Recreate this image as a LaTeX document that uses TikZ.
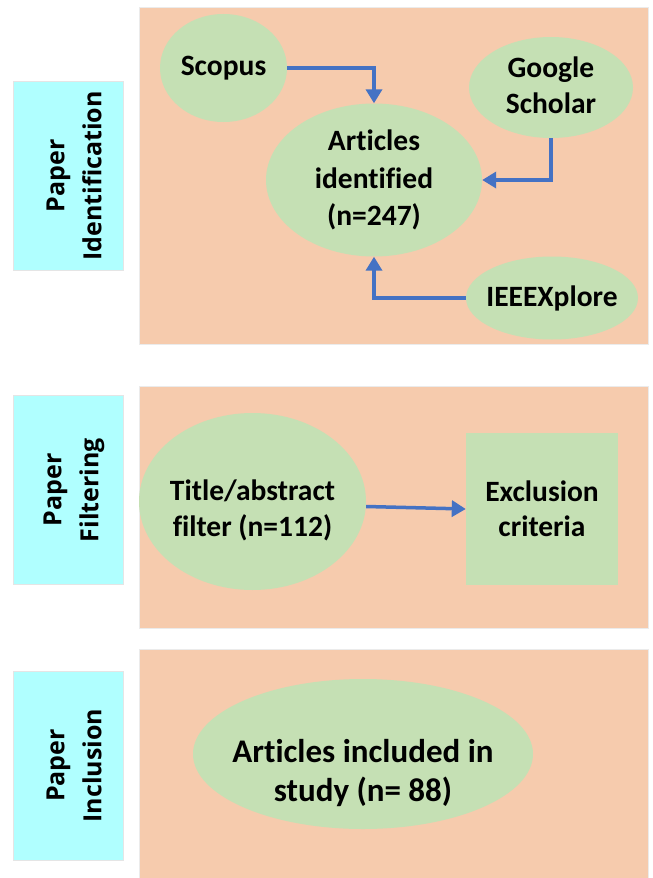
\documentclass[tikz,border=0pt]{standalone}
\usepackage{fontspec}
\setmainfont{Carlito}[Ligatures=NoCommon]
\newfontfamily\lblfont{Open Sans}
\usetikzlibrary{shapes.geometric,arrows.meta}
\definecolor{panelor}{HTML}{F6CBAD}
\definecolor{nodegr}{HTML}{C5E0B4}
\definecolor{stagecy}{HTML}{B0FFFF}
\definecolor{arrbl}{HTML}{4472C4}
\begin{document}
\begin{tikzpicture}[x=1bp,y=-1bp,
  panel/.style={fill=panelor, draw=black!8, line width=0.6bp, inner sep=0},
  stage/.style={fill=stagecy, draw=black!10, line width=0.6bp, inner sep=0,
    minimum width=110bp, minimum height=189bp},
  stagetext/.style={rotate=90, align=center, inner sep=0,
    font=\lblfont\bfseries\fontsize{25bp}{37bp}\selectfont},
  bubtext/.style={align=center, inner sep=0,
    font=\bfseries\fontsize{29.5bp}{35.5bp}\selectfont},
  bubble/.style={ellipse, fill=nodegr, inner sep=0},
  flow/.style={draw=arrbl, line width=3.5bp, -{Triangle[length=14bp,width=16bp]}}
]
\useasboundingbox (0,0) rectangle (653,878);

% panels
\node[panel, minimum width=509bp, minimum height=337bp] (p1) at (393.5,175.5) {};
\node[panel, minimum width=509bp, minimum height=242bp] (p2) at (393.5,507) {};
\node[panel, minimum width=509bp, minimum height=232bp] (p3) at (393.5,765) {};

% stage labels
\node[stage] (s1) at (68,176) {};
\node[stagetext] (s1t) at ([xshift=6bp]s1.center) {Paper\\Identification};
\node[stage] (s2) at (68,490) {};
\node[stagetext] (s2t) at ([xshift=6bp]s2.center) {Paper\\Filtering};
\node[stage] (s3) at (68,765.5) {};
\node[stagetext] (s3t) at ([xshift=6bp]s3.center) {Paper\\Inclusion};

% identification
\node[bubble, minimum width=127bp, minimum height=108bp,
  label={[bubtext]center:Scopus}] (scopus) at (223.5,68) {};
\node[bubble, minimum width=164bp, minimum height=101bp,
  label={[bubtext, yshift=2bp]center:Google\\Scholar}] (gs) at (551,87.5) {};
\node[bubble, minimum width=216bp, minimum height=153bp,
  label={[bubtext, font=\bfseries\fontsize{29.5bp}{37.5bp}\selectfont]center:Articles\\identified\\(n=247)}] (artid) at (374,180) {};
\node[bubble, minimum width=172bp, minimum height=83bp,
  label={[bubtext]center:IEEEXplore}] (ieee) at (552,298) {};

\draw[flow] (scopus.east) -| (artid.north);
\draw[flow] (gs.south) |- (artid.east);
\draw[flow] (ieee.west) -| (artid.south);

% filtering
\node[bubble, minimum width=227bp, minimum height=177bp,
  label={[bubtext, yshift=-9bp]center:Title/abstract\\filter (n=112)}] (title) at (252.5,501.5) {};
\node[fill=nodegr, inner sep=0, minimum width=152bp, minimum height=152bp,
  label={[bubtext]center:Exclusion\\criteria}] (excl) at (542,509) {};
\draw[flow] ([yshift=-5bp]title.east) -- (excl.west);

% inclusion
\node[bubble, minimum width=340bp, minimum height=150bp,
  label={[bubtext, font=\bfseries\fontsize{33bp}{39bp}\selectfont, yshift=-19bp]center:Articles included in\\study (n= 88)}] (incl) at (363,754) {};
\end{tikzpicture}
\end{document}
